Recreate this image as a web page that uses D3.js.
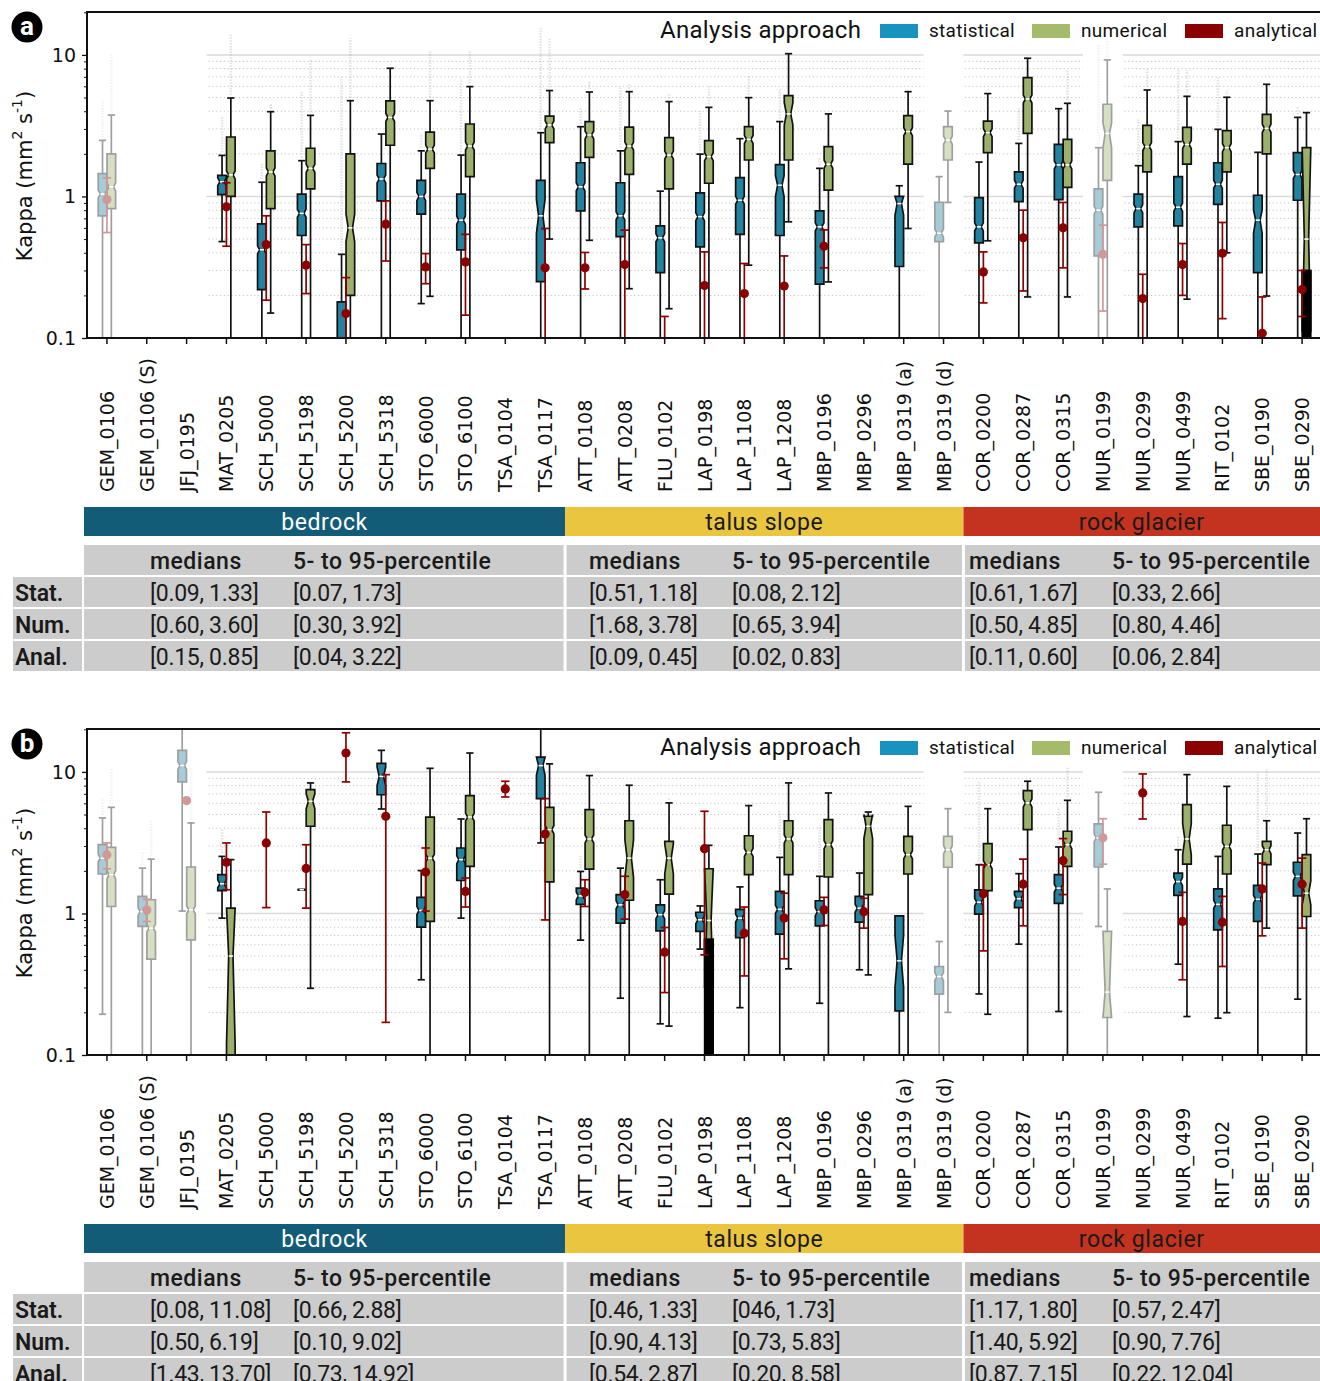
<!DOCTYPE html>
<html><head><meta charset="utf-8">
<script src="https://cdn.jsdelivr.net/npm/d3@7"></script>
<style>body{margin:0;background:#fff}svg{display:block}</style>
</head><body>
<svg id="c" width="1320" height="1381"></svg>
<script>
// ---------------- data ----------------
const stations = ["GEM_0106","GEM_0106 (S)","JFJ_0195","MAT_0205","SCH_5000","SCH_5198","SCH_5200","SCH_5318","STO_6000","STO_6100","TSA_0104","TSA_0117",
  "ATT_0108","ATT_0208","FLU_0102","LAP_0198","LAP_1108","LAP_1208","MBP_0196","MBP_0296","MBP_0319 (a)","MBP_0319 (d)",
  "COR_0200","COR_0287","COR_0315","MUR_0199","MUR_0299","MUR_0499","RIT_0102","SBE_0190","SBE_0290"];
const groups = [
  {name:"bedrock", first:"GEM_0106", last:"TSA_0117"},
  {name:"talus slope", first:"ATT_0108", last:"MBP_0319 (d)"},
  {name:"rock glacier", first:"COR_0200", last:"SBE_0290"}];
const fadedStations = ["GEM_0106","GEM_0106 (S)","JFJ_0195","MBP_0319 (d)","MUR_0199"];
const seriesLabels = ["statistical","numerical","analytical"];
const yTickValues = [0.1, 1, 10];
const yTickLabels = ["0.1","1","10"];
const tableHeader = ["medians","5- to 95-percentile"];
const tableRowLabels = ["Stat.","Num.","Anal."];

// box: [whiskerLow, q1, median, q3, whiskerHigh]
const statA = [
 [0.04,0.73,1.04,1.45,2.49], null, null,
 [0.48,1.03,1.27,1.41,1.95],[0.04,0.22,0.42,0.64,1.26],[0.04,0.53,0.76,1.04,1.79],[0.03,0.06,0.09,0.18,0.39],
 [0.04,0.93,1.33,1.71,2.76],[0.175,0.75,1.0,1.30,2.10],[0.04,0.42,0.68,1.04,1.96], null,[0.04,0.25,0.73,1.30,2.82],
 [0.04,0.79,1.17,1.73,3.11],[0.04,0.52,0.73,1.25,2.10],[0.04,0.29,0.51,0.62,1.09],[0.04,0.44,0.72,1.06,1.99],
 [0.04,0.54,0.94,1.36,2.56],[0.04,0.53,1.20,1.68,3.38],[0.04,0.24,0.61,0.79,1.58], null,
 [0.04,0.32,0.89,1.0,1.19],[0.04,0.48,0.55,0.91,1.38],
 [0.04,0.47,0.61,0.98,1.75],[0.04,0.92,1.22,1.49,2.37],[0.04,0.95,1.67,2.33,4.17],[0.04,0.38,0.80,1.13,2.21],
 [0.04,0.61,0.82,1.04,1.65],[0.04,0.62,0.84,1.38,2.44],[0.04,0.88,1.22,1.73,2.98],[0.04,0.29,0.68,1.02,2.05],
 [0.04,0.94,1.43,2.04,3.62]];
const numA = [
 [0.04,0.82,1.17,2.00,3.76], null, null,
 [0.04,1.0,1.42,2.63,4.96],[0.15,0.82,1.49,2.10,3.97],[0.04,1.13,1.58,2.19,3.74],[0.04,0.20,0.60,2.0,4.75],
 [0.04,2.30,3.62,4.73,8.05],[0.197,1.58,2.16,2.85,4.75],[0.04,1.38,2.27,3.25,5.97], null,[0.50,2.40,3.20,3.70,5.6],
 [0.49,1.89,2.72,3.38,5.47],[0.223,1.43,2.27,3.09,5.5],[0.161,1.13,1.96,2.60,4.68],[0.04,1.24,1.91,2.48,4.26],
 [0.327,1.81,2.53,3.11,4.99],[0.662,1.81,3.83,5.16,10.2],[0.249,1.11,1.69,2.25,3.83], null,
 [0.594,1.69,2.87,3.72,5.5],[0.907,1.81,2.50,3.11,4.01],
 [0.486,2.04,2.82,3.41,5.33],[0.195,2.79,4.88,6.91,9.47],[0.195,1.16,1.67,2.53,4.55],[0.04,1.30,2.79,4.48,9.22],
 [0.04,1.49,2.25,3.18,5.65],[0.188,1.69,2.33,3.08,5.1],[0.40,1.49,2.21,2.92,5.02],[0.198,2.0,3.03,3.80,6.2],
 [0.04,0.30,0.50,2.21,3.91]];
// analytical: [low, median, high]
const analA = [
 [0.556,0.95,1.355], null, null,
 [0.445,0.845,1.25],[0.185,0.457,0.73],[0.206,0.327,0.457],[0.04,0.149,0.267],
 [0.35,0.637,0.93],[0.242,0.318,0.395],[0.145,0.345,0.54], null,[0.04,0.313,0.594],
 [0.222,0.313,0.402],[0.04,0.33,0.578],[0.03,0.09,0.142],[0.04,0.235,0.406],
 [0.04,0.206,0.336],[0.04,0.233,0.38],[0.313,0.445,0.581], null,
 null, null,
 [0.177,0.293,0.406],[0.215,0.51,0.80],[0.313,0.60,0.907],[0.155,0.391,0.627],
 [0.04,0.19,0.282],[0.20,0.33,0.465],[0.137,0.397,0.655],[0.04,0.108,0.195],
 [0.142,0.22,0.30]];
const statFliersA = [4.8,null,null,3.66,1.71,5.5,7.0,null,2.8,6.8,null,15.5,4.3,6.0,null,4.0,null,5.8,1.86,null,null,null,null,4.3,null,12,3.5,8,7,null,4.3];
const numFliersA  = [10.3,null,null,14,4.55,9.2,13.1,null,10.8,10.8,null,13,6.6,6.2,5.3,6,7.2,null,null,null,null,null,5.8,null,7.8,12.8,8,7.8,5.6,null,null];
const notchA = [
 {st:"SBE_0290", s:"num", lo:0.11, hi:2.21},
 {st:"MBP_0319 (a)", s:"stat", lo:0.74, hi:1.0},
 {st:"SCH_5200", s:"num", lo:0.48, hi:0.75},
 {st:"TSA_0117", s:"stat", lo:0.55, hi:0.95},
 {st:"LAP_1208", s:"num", lo:3.2, hi:4.6},
 {st:"LAP_1208", s:"stat", lo:1.0, hi:1.4},
 {st:"MUR_0199", s:"num", lo:2.2, hi:3.3},
 {st:"SBE_0190", s:"stat", lo:0.55, hi:0.8}];
const darkA = [{st:"SBE_0290", s:"num", from:0.30, to:0.04}];

const statB = [
 [0.194,1.90,2.46,3.06,4.73],[0.04,0.81,1.03,1.32,2.09],[1.04,8.5,11.1,14.2,30],
 [0.927,1.45,1.62,1.88,2.53], null,[1.47,1.46,1.47,1.48,1.47], null,
 [5.47,6.9,9.3,11.5,14.2],[0.34,0.80,1.05,1.30,2.01],[0.927,1.71,2.40,2.9,4.65], null,[3.15,6.48,11.08,12.7,30],
 [0.648,1.16,1.33,1.51,1.98],[0.252,0.854,1.15,1.36,2.09],[0.166,0.754,0.98,1.15,1.73],[0.56,0.746,0.902,1.02,1.13],
 [0.216,0.676,0.927,1.07,1.54],[0.04,0.714,1.07,1.43,2.49],[0.232,0.818,1.03,1.23,1.83],[0.40,0.868,1.09,1.32,1.93],
 [0.04,0.205,0.463,0.963,0.963],[0.04,0.269,0.358,0.422,0.634],
 [0.27,0.99,1.20,1.47,2.21],[0.607,1.10,1.27,1.43,1.91],[0.203,1.18,1.51,1.88,2.95],[0.809,2.13,3.42,4.29,7.18],
 null,[0.438,1.34,1.68,1.93,2.82],[0.182,0.766,1.16,1.49,2.53],[0.04,0.878,1.26,1.58,2.63],
 [0.248,1.33,1.83,2.30,3.70]];
const numB = [
 [0.04,1.12,1.88,2.93,5.62],[0.04,0.475,0.788,1.25,2.42],[0.04,0.651,1.06,2.13,4.36],
 [0.03,0.06,0.50,1.09,2.40], null,[0.296,4.13,6.2,7.5,8.36], null,
 null,[0.04,0.878,2.46,4.8,10.6],[0.04,2.15,4.8,6.8,13.6], null,[0.04,1.67,3.91,5.62,11.4],
 [0.04,2.06,3.36,5.41,9.42],[0.04,1.24,2.46,4.52,8.05],[0.16,1.37,2.46,3.23,6.04],[0.04,0.66,0.892,2.07,3.03],
 [0.04,1.88,2.70,3.54,5.78],[0.406,1.88,3.36,4.52,8.36],[0.04,1.81,3.06,4.6,7.1],[0.368,1.36,4.13,4.86,5.21],
 [0.04,1.90,2.6,3.5,5.71],[0.20,2.12,2.82,3.5,5.5],
 [0.194,1.45,2.21,3.11,5.5],[0.04,3.91,6.04,7.38,8.59],[0.04,2.15,3.06,3.81,6.3],[0.04,0.184,0.278,0.746,1.49],
 null,[0.187,2.23,3.36,5.87,9.57],[0.199,1.90,2.98,4.2,7.9],[0.788,2.21,2.82,3.23,4.52],
 [0.04,0.952,1.39,2.60,4.67]];
const analB = [
 [2.07,2.60,3.15],[0.878,1.06,1.26],[6.27,6.27,6.27],
 [1.47,2.30,3.15],[1.10,3.15,5.21],[1.09,2.08,3.06],[8.5,13.6,18.9],
 [0.17,4.86,9.57],[1.04,1.96,2.9],[1.11,1.43,1.78],[6.65,7.58,8.59],[0.90,3.64,6.48],
 [1.12,1.41,1.73],[0.912,1.36,1.83],[0.276,0.533,0.796],[0.51,2.87,5.27],
 [0.362,0.726,1.11],[0.478,0.927,1.39],[0.822,1.06,1.30],[0.788,1.03,1.28],
 null, null,
 [0.544,1.38,2.21],[0.818,1.61,2.42],[1.36,2.36,3.38],[2.23,3.42,4.67],
 [4.65,7.1,9.68],[0.34,0.878,1.41],[0.422,0.868,1.32],[0.695,1.49,2.27],
 [0.788,1.61,2.46]];
const statFliersB = [6.5,2.75,null,4.0,null,null,null,null,null,null,null,null,2.6,null,null,null,null,5.3,4.2,null,null,null,8.6,null,5.5,null,null,3.5,null,10,null];
const numFliersB  = [10.7,4.5,10.7,null,null,null,null,null,null,null,null,null,null,null,6.5,null,null,null,null,null,null,null,null,null,10.7,null,null,null,8.5,10.5,null];
const notchB = [
 {st:"MAT_0205", s:"num", lo:0.12, hi:1.09},
 {st:"LAP_0198", s:"num", lo:0.30, hi:2.07},
 {st:"MUR_0199", s:"num", lo:0.184, hi:0.746},
 {st:"MBP_0319 (a)", s:"stat", lo:0.30, hi:0.70},
 {st:"ATT_0208", s:"num", lo:1.8, hi:3.3},
 {st:"FLU_0102", s:"num", lo:1.9, hi:3.1},
 {st:"MUR_0499", s:"num", lo:2.6, hi:4.3},
 {st:"SBE_0290", s:"num", lo:1.15, hi:1.7},
 {st:"SCH_5318", s:"stat", lo:8.0, hi:10.8},
 {st:"TSA_0117", s:"stat", lo:9.5, hi:12.7},
 {st:"SCH_5198", s:"num", lo:5.5, hi:7.0},
 {st:"MBP_0296", s:"num", lo:3.4, hi:5.0}];
const darkB = [{st:"LAP_0198", s:"num", from:0.66, to:0.04}];

// table: [group][row] = [medians, percentile]
const tableA = [
 [["[0.09, 1.33]","[0.07, 1.73]"],["[0.60, 3.60]","[0.30, 3.92]"],["[0.15, 0.85]","[0.04, 3.22]"]],
 [["[0.51, 1.18]","[0.08, 2.12]"],["[1.68, 3.78]","[0.65, 3.94]"],["[0.09, 0.45]","[0.02, 0.83]"]],
 [["[0.61, 1.67]","[0.33, 2.66]"],["[0.50, 4.85]","[0.80, 4.46]"],["[0.11, 0.60]","[0.06, 2.84]"]]];
const tableB = [
 [["[0.08, 11.08]","[0.66, 2.88]"],["[0.50, 6.19]","[0.10, 9.02]"],["[1.43, 13.70]","[0.73, 14.92]"]],
 [["[0.46, 1.33]","[046, 1.73]"],["[0.90, 4.13]","[0.73, 5.83]"],["[0.54, 2.87]","[0.20, 8.58]"]],
 [["[1.17, 1.80]","[0.57, 2.47]"],["[1.40, 5.92]","[0.90, 7.76]"],["[0.87, 7.15]","[0.22, 12.04]"]]];

// ---------------- style ----------------
const groupColors = ["#135c78","#e9c540","#c4331f"];
const groupTextColors = ["#ffffff","#1a1a1a","#1a1a1a"];
const boxFill = {stat:"#22829f", num:"#9cb06c"};
const legendColors = ["#1893c0","#a5bb6b","#8b0000"];
const analColor = "#8b0000";
const DIN = "Roboto, 'DejaVu Sans', sans-serif";
const SANS = "'DejaVu Sans', Verdana, sans-serif";

const svg = d3.select("#c");
const defs = svg.append("defs");

function drawPanel(cfg) {
  const oy = cfg.oy;
  const top = oy + 12, bot = oy + 338;
  const x = d3.scaleBand().domain(stations).range([87, 1322]);
  const bw = x.bandwidth();
  const tick = s => x(s) + bw / 2;
  const y = d3.scaleLog().domain([0.1, 20.1]).range([bot, top]);
  const g = svg.append("g");

  defs.append("clipPath").attr("id", "clip" + cfg.letter)
    .append("rect").attr("x", 87).attr("y", top).attr("width", 1322 - 87).attr("height", bot - top);
  const plot = g.append("g").attr("clip-path", `url(#clip${cfg.letter})`);

  // grid
  const minors = [];
  [0.1, 1].forEach(d => { for (let k = 2; k <= 9; k++) minors.push(+(k * d).toPrecision(3)); });
  plot.selectAll("line.minor").data(minors).join("line")
    .attr("x1", 87).attr("x2", 1322).attr("y1", d => y(d)).attr("y2", d => y(d))
    .attr("stroke", "#c4c4c4").attr("stroke-width", 1).attr("stroke-dasharray", "1.2,2.6");
  plot.selectAll("line.major").data([1, 10]).join("line")
    .attr("x1", 87).attr("x2", 1322).attr("y1", d => y(d)).attr("y2", d => y(d))
    .attr("stroke", "#dadada").attr("stroke-width", 1.5);

  // fade bands (hide grid)
  plot.selectAll("rect.fade").data(fadedStations).join("rect")
    .attr("x", d => x(d)).attr("width", bw).attr("y", top).attr("height", bot - top).attr("fill", "#fff");

  const hw = 4.3;
  const off = {stat: -4.4, num: 4.4};
  const series = [{s:"stat", data: cfg.stat, fl: cfg.statFl}, {s:"num", data: cfg.num, fl: cfg.numFl}];

  stations.forEach((st, i) => {
    const sg = plot.append("g").attr("opacity", fadedStations.includes(st) ? 0.4 : 1);
    const t = tick(st);
    // fliers
    series.forEach(se => {
      const b = se.data[i], f = se.fl[i];
      if (!b || f == null) return;
      const cx = t + off[se.s];
      sg.append("line").attr("x1", cx).attr("x2", cx).attr("y1", y(b[4]) - 3).attr("y2", y(f))
        .attr("stroke", "#8a8a8a").attr("stroke-opacity", 0.22).attr("stroke-width", 2.6)
        .attr("stroke-dasharray", "1.6,1.2");
    });
    // boxes
    series.forEach(se => {
      const b = se.data[i];
      if (!b) return;
      const cx = t + off[se.s];
      const [wl, q1, md, q3, wh] = b;
      const wk = sg.append("g").attr("stroke", "#111").attr("stroke-width", 1.7);
      if (wl < q1) {
        wk.append("line").attr("x1", cx).attr("x2", cx).attr("y1", y(q1)).attr("y2", y(wl));
        wk.append("line").attr("x1", cx - 3.6).attr("x2", cx + 3.6).attr("y1", y(wl)).attr("y2", y(wl));
      }
      if (wh > q3) {
        wk.append("line").attr("x1", cx).attr("x2", cx).attr("y1", y(q3)).attr("y2", y(wh));
        wk.append("line").attr("x1", cx - 3.6).attr("x2", cx + 3.6).attr("y1", y(wh)).attr("y2", y(wh));
      }
      const ov = cfg.notch.find(n => n.st === st && n.s === se.s);
      let nlo, nhi;
      if (ov) { nlo = ov.lo; nhi = ov.hi; }
      else {
        nlo = Math.max(q1, md / Math.pow(10, 0.028));
        nhi = Math.min(q3, md * Math.pow(10, 0.028));
      }
      const L = cx - hw, R = cx + hw, n = hw / 2;
      const pts = [[L, y(q1)], [R, y(q1)], [R, y(nlo)], [R - n, y(md)], [R, y(nhi)], [R, y(q3)],
                   [L, y(q3)], [L, y(nhi)], [L + n, y(md)], [L, y(nlo)]];
      sg.append("path").attr("d", d3.line()(pts) + "Z")
        .attr("fill", boxFill[se.s]).attr("stroke", "#111").attr("stroke-width", 1.7)
        .attr("stroke-linejoin", "miter");
      sg.append("line").attr("x1", L + n).attr("x2", R - n).attr("y1", y(md)).attr("y2", y(md))
        .attr("stroke", "#fff").attr("stroke-width", 1.6);
      const dk = cfg.dark.find(d => d.st === st && d.s === se.s);
      if (dk) {
        sg.append("rect").attr("x", L - 0.8).attr("width", 2 * hw + 1.6)
          .attr("y", y(dk.from)).attr("height", y(dk.to) - y(dk.from)).attr("fill", "#000");
      }
    });
    // analytical
    const a = cfg.anal[i];
    if (a) {
      const ag = sg.append("g").attr("stroke", analColor).attr("stroke-width", 1.7);
      if (a[2] > a[0]) {
        ag.append("line").attr("x1", t).attr("x2", t).attr("y1", y(a[0])).attr("y2", y(a[2]));
        [a[0], a[2]].forEach(v => ag.append("line").attr("x1", t - 4.2).attr("x2", t + 4.2).attr("y1", y(v)).attr("y2", y(v)));
      }
      sg.append("circle").attr("cx", t).attr("cy", y(a[1])).attr("r", 4.6).attr("fill", analColor);
    }
  });

  // spines
  const sp = g.append("g").attr("stroke", "#111").attr("stroke-width", 2);
  sp.append("line").attr("x1", 87).attr("x2", 1322).attr("y1", top).attr("y2", top);
  sp.append("line").attr("x1", 87).attr("x2", 1322).attr("y1", bot).attr("y2", bot);
  sp.append("line").attr("x1", 87).attr("x2", 87).attr("y1", top - 1).attr("y2", bot + 1);

  // y axis
  const ya = g.append("g").attr("transform", "translate(87,0)")
    .call(d3.axisLeft(y).tickValues(yTickValues).tickFormat((d, i) => yTickLabels[i]).tickSize(5).tickPadding(6));
  ya.select(".domain").remove();
  ya.selectAll("line").attr("stroke", "#111").attr("stroke-width", 1.3);
  ya.selectAll("text").attr("font-family", SANS).attr("font-size", 19).attr("fill", "#111");
  const ym = g.append("g").attr("transform", "translate(87,0)")
    .call(d3.axisLeft(y).tickValues(minors.concat([20])).tickFormat("").tickSize(3));
  ym.select(".domain").remove();
  ym.selectAll("line").attr("stroke", "#111").attr("stroke-width", 1);

  // x axis
  const xa = g.append("g").attr("transform", `translate(0,${bot})`)
    .call(d3.axisBottom(x).tickSize(6).tickFormat(""));
  xa.select(".domain").remove();
  xa.selectAll("line").attr("stroke", "#111").attr("stroke-width", 1.5);
  g.append("g").selectAll("text").data(stations).join("text")
    .attr("transform", d => `translate(${tick(d)},${oy + 492}) rotate(-90)`)
    .attr("dominant-baseline", "central").attr("text-anchor", "start")
    .attr("font-family", SANS).attr("font-size", 19).attr("fill", "#111").text(d => d);

  // y label
  const yl = g.append("text").attr("transform", `translate(25,${oy + 176}) rotate(-90)`)
    .attr("text-anchor", "middle").attr("dominant-baseline", "central")
    .attr("font-family", SANS).attr("font-size", 21).attr("fill", "#111");
  yl.append("tspan").text("Kappa (mm");
  yl.append("tspan").text("2").attr("font-size", 14).attr("dy", -8);
  yl.append("tspan").text(" s").attr("dy", 8);
  yl.append("tspan").text("-1").attr("font-size", 14).attr("dy", -8);
  yl.append("tspan").text(")").attr("dy", 8);

  // panel letter
  g.append("circle").attr("cx", 27).attr("cy", oy + 27).attr("r", 15.5).attr("fill", "#000");
  g.append("text").attr("x", 27).attr("y", oy + 27).attr("text-anchor", "middle").attr("dominant-baseline", "central")
    .attr("font-family", DIN).attr("font-weight", 700).attr("font-size", 26).attr("fill", "#fff").attr("dy", -1)
    .text(cfg.letter);

  // legend
  const lg = g.append("g");
  lg.append("text").attr("x", 660).attr("y", oy + 38).attr("font-family", DIN).attr("font-size", 24)
    .attr("letter-spacing", 0.3).attr("fill", "#111").text("Analysis approach");
  const lx = [880, 1032, 1185];
  seriesLabels.forEach((s, i) => {
    lg.append("rect").attr("x", lx[i]).attr("y", oy + 24).attr("width", 38).attr("height", 14)
      .attr("fill", legendColors[i]);
    lg.append("text").attr("x", lx[i] + 49).attr("y", oy + 37).attr("font-family", DIN).attr("font-size", 19)
      .attr("letter-spacing", 0.3).attr("fill", "#111").text(s);
  });

  // group bars
  const gx0 = groups.map((gr, i) => i === 0 ? 84 : x(gr.first));
  const gx1 = groups.map(gr => x(gr.last) + bw);
  groups.forEach((gr, i) => {
    g.append("rect").attr("x", gx0[i]).attr("y", oy + 507).attr("width", gx1[i] - gx0[i]).attr("height", 29)
      .attr("fill", groupColors[i]);
    g.append("text").attr("x", (gx0[i] + Math.min(gx1[i], 1320)) / 2).attr("y", oy + 522)
      .attr("text-anchor", "middle").attr("dominant-baseline", "central")
      .attr("font-family", DIN).attr("font-size", 23).attr("letter-spacing", 0.6)
      .attr("fill", groupTextColors[i]).text(gr.name);
  });

  // table
  const cell = "#cccccc";
  const rowY = [oy + 545, oy + 577, oy + 609, oy + 641];
  const rowH = 30;
  const medX = [150, 589, 969], pctX = [293, 732, 1112];
  groups.forEach((gr, i) => {
    const xa0 = gx0[i] + (i === 0 ? 0 : 1.5), xa1 = gx1[i] - 1.5;
    rowY.forEach(ry => g.append("rect").attr("x", xa0).attr("y", ry).attr("width", xa1 - xa0).attr("height", rowH).attr("fill", cell));
    [medX[i], pctX[i]].forEach((tx, c) => {
      g.append("text").attr("x", tx).attr("y", rowY[0] + rowH / 2 + 1).attr("dominant-baseline", "central")
        .attr("font-family", DIN).attr("font-size", 23).attr("font-weight", 500).attr("letter-spacing", 0.5)
        .attr("fill", "#1a1a1a").text(tableHeader[c]);
      cfg.table[i].forEach((row, r) => {
        g.append("text").attr("x", tx).attr("y", rowY[r + 1] + rowH / 2 + 1).attr("dominant-baseline", "central")
          .attr("font-family", DIN).attr("font-size", 23).attr("letter-spacing", -0.3)
          .attr("fill", "#1a1a1a").text(row[c]);
      });
    });
  });
  tableRowLabels.forEach((lab, r) => {
    g.append("rect").attr("x", 13).attr("y", rowY[r + 1]).attr("width", 69).attr("height", rowH).attr("fill", cell);
    g.append("text").attr("x", 15).attr("y", rowY[r + 1] + rowH / 2 + 1).attr("dominant-baseline", "central")
      .attr("font-family", DIN).attr("font-size", 23).attr("font-weight", 600).attr("fill", "#1a1a1a").text(lab);
  });
}

drawPanel({oy: 0, letter: "a", stat: statA, num: numA, anal: analA, statFl: statFliersA, numFl: numFliersA,
  notch: notchA, dark: darkA, table: tableA});
drawPanel({oy: 717, letter: "b", stat: statB, num: numB, anal: analB, statFl: statFliersB, numFl: numFliersB,
  notch: notchB, dark: darkB, table: tableB});
</script>
</body></html>
